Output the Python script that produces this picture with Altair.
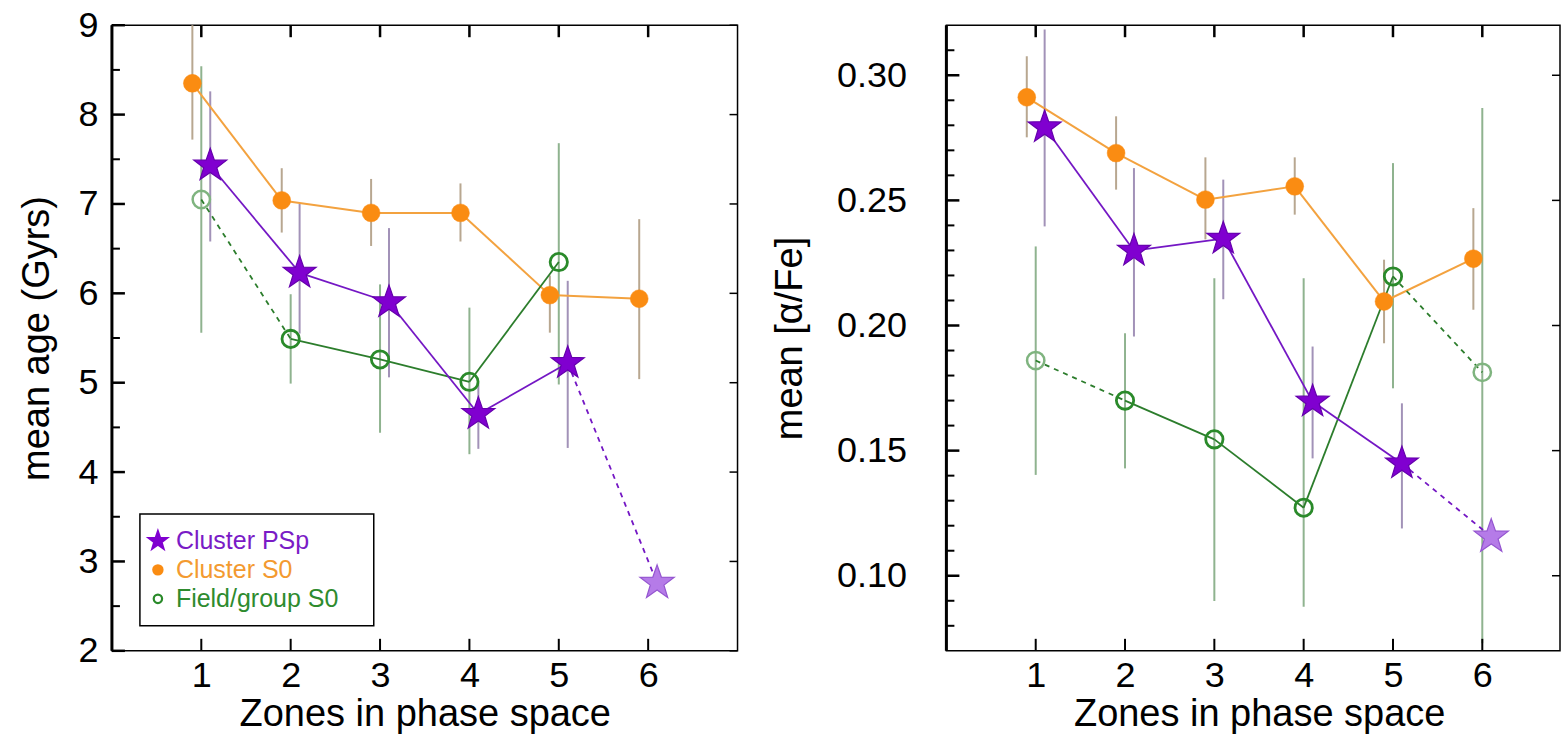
import altair as alt
import pandas as pd

# ---------------- data ----------------
zone_ticks = [1, 2, 3, 4, 5, 6]
legend_labels = ["Cluster PSp", "Cluster S0", "Field/group S0"]

# Left panel: mean age (Gyrs)
age_psp = [7.43, 6.23, 5.90, 4.65, 5.22, 2.76]
age_psp_lo = [6.58, 5.55, 5.06, 4.26, 4.27, None]
age_psp_hi = [8.26, 7.00, 6.73, 5.00, 6.14, None]
age_psp_faded = [False, False, False, False, False, True]
age_psp_dashed = [4]

age_s0 = [8.35, 7.04, 6.90, 6.90, 5.98, 5.94]
age_s0_lo = [7.72, 6.68, 6.53, 6.58, 5.56, 5.04]
age_s0_hi = [9.00, 7.40, 7.28, 7.23, 6.20, 6.83]
age_s0_faded = [False] * 6
age_s0_dashed = []

age_field = [7.05, 5.49, 5.26, 5.01, 6.35]
age_field_lo = [5.56, 4.99, 4.44, 4.20, 4.98]
age_field_hi = [8.54, 5.99, 6.10, 5.84, 7.68]
age_field_faded = [True, False, False, False, False]
age_field_dashed = [0]

age_ticks_major = [2, 3, 4, 5, 6, 7, 8, 9]
age_ticks_minor = [2.5, 3.5, 4.5, 5.5, 6.5, 7.5, 8.5]

# Right panel: mean [alpha/Fe]
afe_psp = [0.2792, 0.2299, 0.2347, 0.1696, 0.1449, 0.1156]
afe_psp_lo = [0.2396, 0.1956, 0.2105, 0.1469, 0.1189, None]
afe_psp_hi = [0.3183, 0.2629, 0.2583, 0.1916, 0.1689, None]
afe_psp_faded = [False, False, False, False, False, True]
afe_psp_dashed = [4]

afe_s0 = [0.2912, 0.2689, 0.2503, 0.2556, 0.2096, 0.2267]
afe_s0_lo = [0.2752, 0.2543, 0.2344, 0.2443, 0.1929, 0.2063]
afe_s0_hi = [0.3076, 0.2836, 0.2672, 0.2672, 0.2263, 0.2469]
afe_s0_faded = [False] * 6
afe_s0_dashed = []

afe_field = [0.1860, 0.1700, 0.1545, 0.1272, 0.2196, 0.1813]
afe_field_lo = [0.1403, 0.1429, 0.0899, 0.0876, 0.1749, 0.0730]
afe_field_hi = [0.2316, 0.1969, 0.2189, 0.2189, 0.2649, 0.2869]
afe_field_faded = [True, False, False, False, False, True]
afe_field_dashed = [0, 4]

afe_ticks_major = [0.10, 0.15, 0.20, 0.25, 0.30]
afe_ticks_minor = [0.08, 0.09, 0.11, 0.12, 0.13, 0.14, 0.16, 0.17, 0.18, 0.19,
                   0.21, 0.22, 0.23, 0.24, 0.26, 0.27, 0.28, 0.29, 0.31]

# ---------------- styles ----------------
FONT = "Liberation Sans"
STAR = ("M0,-1L0.235,-0.324L0.951,-0.309L0.38,0.124L0.588,0.809L0,0.4"
        "L-0.588,0.809L-0.38,0.124L-0.951,-0.309L-0.235,-0.324Z")

STYLE = {
    "psp": dict(offset=0.1, line="#7417c4", err="#a292b8", lw=1.8),
    "s0": dict(offset=-0.1, line="#f3a23f", err="#b8a790", lw=2.0),
    "field": dict(offset=0.0, line="#2c7d2c", err="#8fb38f", lw=1.8),
}


def marker(name, faded):
    if name == "psp":
        if faded:
            return dict(shape=STAR, filled=True, fill="#b57be8", stroke="#9556d0",
                        strokeWidth=1.2, size=1300, opacity=1)
        return dict(shape=STAR, filled=True, fill="#8000d0", stroke="#6500ac",
                    strokeWidth=1.2, size=1200, opacity=1)
    if name == "s0":
        return dict(shape="circle", filled=True, fill="#fa8c12", stroke="#fa8c12",
                    strokeWidth=0.5, size=320, opacity=1)
    if faded:
        return dict(shape="circle", filled=False, stroke="#7fb47f", strokeWidth=2.5,
                    size=300, opacity=1)
    return dict(shape="circle", filled=False, stroke="#2a8a2a", strokeWidth=2.8,
                size=300, opacity=1)


def series_frame(vals, lo, hi, faded, offset):
    rows = []
    for i, v in enumerate(vals):
        rows.append(dict(zone=zone_ticks[i], x=zone_ticks[i] + offset, y=v,
                         lo=lo[i], hi=hi[i], faded=faded[i]))
    return pd.DataFrame(rows)


def segment_frame(df, dashed_idx):
    rows = []
    for i in range(len(df) - 1):
        for j in (i, i + 1):
            rows.append(dict(seg=i, x=df.x.iloc[j], y=df.y.iloc[j],
                             dashed=(i in dashed_idx)))
    return pd.DataFrame(rows)


def build_panel(series, ydom, xmax, W, H, yaxis, xaxis, tmaj, tmin, legend=False):
    xs = alt.Scale(domain=[0, xmax], nice=False, zero=False)
    ys = alt.Scale(domain=ydom, nice=False, zero=False)

    def X(f):
        return alt.X(f, type="quantitative", scale=xs, axis=xaxis)

    def Y(f):
        return alt.Y(f, type="quantitative", scale=ys, axis=yaxis)

    layers = []
    # error bars
    for name, (vals, lo, hi, faded, dashed) in series.items():
        st = STYLE[name]
        df = series_frame(vals, lo, hi, faded, st["offset"])
        dfe = df.dropna(subset=["lo", "hi"])
        layers.append(alt.Chart(dfe).mark_rule(color=st["err"], strokeWidth=2).encode(
            x=X("x"), y=Y("lo"), y2="hi"))
    # lines
    for name, (vals, lo, hi, faded, dashed) in series.items():
        st = STYLE[name]
        df = series_frame(vals, lo, hi, faded, st["offset"])
        seg = segment_frame(df, dashed)
        solid = seg[~seg.dashed]
        dash = seg[seg.dashed]
        if len(solid):
            layers.append(alt.Chart(solid).mark_line(color=st["line"], strokeWidth=st["lw"]).encode(
                x=X("x"), y=Y("y"), detail="seg:N"))
        if len(dash):
            layers.append(alt.Chart(dash).mark_line(color=st["line"], strokeWidth=st["lw"],
                                                    strokeDash=[5, 5]).encode(
                x=X("x"), y=Y("y"), detail="seg:N"))
    # markers (orange, green, then stars)
    for name in ["s0", "field", "psp"]:
        vals, lo, hi, faded, dashed = series[name]
        st = STYLE[name]
        df = series_frame(vals, lo, hi, faded, st["offset"])
        for fd in (True, False):
            sub = df[df.faded == fd]
            if len(sub):
                layers.append(alt.Chart(sub).mark_point(**marker(name, fd)).encode(
                    x=X("x"), y=Y("y")))
    # inward ticks (left, right, top, bottom)
    one = pd.DataFrame({"k": [0]})
    layers.append(alt.Chart(pd.DataFrame({"v": tmaj})).mark_rule(color="black", strokeWidth=2.5).encode(
        y=Y("v"), x=alt.value(0), x2=alt.value(13)))
    layers.append(alt.Chart(pd.DataFrame({"v": tmin})).mark_rule(color="black", strokeWidth=2).encode(
        y=Y("v"), x=alt.value(0), x2=alt.value(8)))
    layers.append(alt.Chart(pd.DataFrame({"v": tmaj})).mark_rule(color="black", strokeWidth=1.5).encode(
        y=Y("v"), x=alt.value(W - 8), x2=alt.value(W)))
    layers.append(alt.Chart(pd.DataFrame({"v": zone_ticks})).mark_rule(color="black", strokeWidth=2.5).encode(
        x=X("v"), y=alt.value(0), y2=alt.value(12)))
    layers.append(alt.Chart(pd.DataFrame({"v": zone_ticks})).mark_rule(color="black", strokeWidth=2).encode(
        x=X("v"), y=alt.value(H - 12), y2=alt.value(H)))
    layers.append(alt.Chart(one).mark_rule(color="black", strokeWidth=3).encode(
        x=alt.value(0), y=alt.value(0), y2=alt.value(H)))

    if legend:
        layers.append(alt.Chart(one).mark_rect(fill="white", stroke="black", strokeWidth=1.5).encode(
            x=alt.value(28), x2=alt.value(262), y=alt.value(489), y2=alt.value(601)))
        lab_colors = ["#7a1bc6", "#f39a30", "#2e8b2e"]
        syms = [dict(shape=STAR, filled=True, fill="#8000d0", stroke="#8000d0", size=380, opacity=1),
                dict(shape="circle", filled=True, fill="#fa8c12", size=130, opacity=1),
                dict(shape="circle", filled=False, stroke="#2a8a2a", strokeWidth=2.2, size=70, opacity=1)]
        for i, lab in enumerate(legend_labels):
            yy = 516 + i * 29
            layers.append(alt.Chart(one).mark_point(**syms[i]).encode(
                x=alt.value(46), y=alt.value(yy)))
            layers.append(alt.Chart(pd.DataFrame({"label": [lab]})).mark_text(
                align="left", baseline="middle", fontSize=25, font=FONT, color=lab_colors[i]).encode(
                x=alt.value(64), y=alt.value(yy), text="label:N"))

    return alt.layer(*layers).properties(width=W, height=H)


def xaxis_for(title_x=None):
    kw = dict(values=zone_ticks, format="d", ticks=False, domain=False, grid=False,
              labelFontSize=36, labelPadding=8, title="Zones in phase space",
              titleFontSize=38, titlePadding=2, titleFontWeight="normal")
    if title_x is not None:
        kw["titleX"] = title_x
    return alt.Axis(**kw)


left_yaxis = alt.Axis(values=age_ticks_major, format="d", ticks=False, domain=False, grid=False,
                      labelFontSize=36, labelPadding=14, title="mean age (Gyrs)",
                      titleFontSize=38, titleFontWeight="normal", titleX=-74,
                      titleBaseline="middle")
right_yaxis = alt.Axis(values=afe_ticks_major, format=".2f", ticks=False, domain=False, grid=False,
                       labelFontSize=36, labelPadding=40, title="mean [α/Fe]",
                       titleFontSize=38, titleFontWeight="normal", titleX=-156,
                       titleBaseline="middle")

left_series = {
    "s0": (age_s0, age_s0_lo, age_s0_hi, age_s0_faded, age_s0_dashed),
    "field": (age_field, age_field_lo, age_field_hi, age_field_faded, age_field_dashed),
    "psp": (age_psp, age_psp_lo, age_psp_hi, age_psp_faded, age_psp_dashed),
}
right_series = {
    "s0": (afe_s0, afe_s0_lo, afe_s0_hi, afe_s0_faded, afe_s0_dashed),
    "field": (afe_field, afe_field_lo, afe_field_hi, afe_field_faded, afe_field_dashed),
    "psp": (afe_psp, afe_psp_lo, afe_psp_hi, afe_psp_faded, afe_psp_dashed),
}

left = build_panel(left_series, [2, 9], 7, 626, 626, left_yaxis, xaxis_for(),
                   age_ticks_major, age_ticks_minor, legend=True)
right = build_panel(right_series, [0.07, 0.32], 6.87, 614, 626, right_yaxis, xaxis_for(313),
                    afe_ticks_major, afe_ticks_minor)

chart = alt.hconcat(left, right, spacing=209, bounds="flush").properties(
    padding={"left": 18, "top": 6, "right": 0, "bottom": 0},
    background="white",
).configure_view(stroke="black", strokeWidth=1.5).configure_axis(
    labelFont=FONT, titleFont=FONT, labelColor="black", titleColor="black"
)

chart.save("out.html", embed_options={"renderer": "svg", "actions": False})
